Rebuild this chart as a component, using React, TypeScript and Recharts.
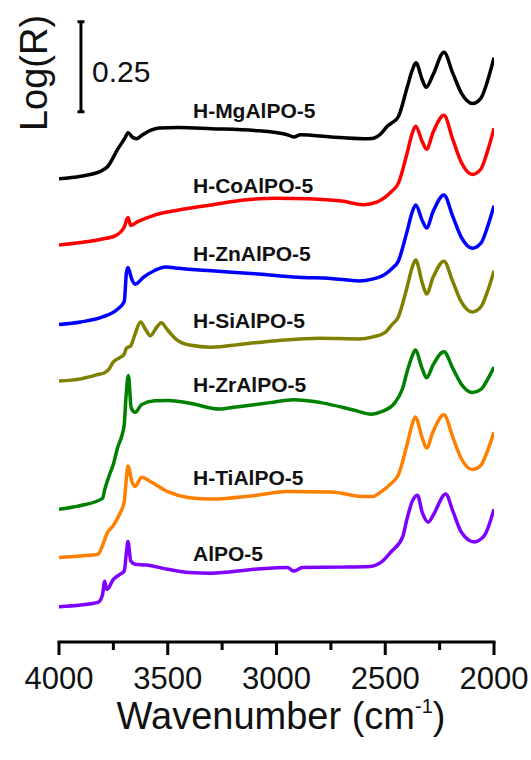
import React from 'react';
import { LineChart, Line, XAxis, YAxis, ReferenceLine, ReferenceDot, Customized } from 'recharts';

const FONT = '"Liberation Sans", Arial, Helvetica, sans-serif';

// x axis: wavenumber (cm^-1), reversed
const wavenumberTicks = [4000, 3750, 3500, 3250, 3000, 2750, 2500, 2250, 2000];
const majorTickLabels = ['4000', '3500', '3000', '2500', '2000'];

// Series names and colours (top to bottom)
const seriesNames = ['H-MgAlPO-5', 'H-CoAlPO-5', 'H-ZnAlPO-5', 'H-SiAlPO-5', 'H-ZrAlPO-5', 'H-TiAlPO-5', 'AlPO-5'];
const seriesColors = ['#000000', '#ff0000', '#0000ff', '#808000', '#008000', '#ff8000', '#8000ff'];
const labelLogR = [1.476, 1.267, 1.078, 0.892, 0.715, 0.458, 0.247];
const labelWavenumber = 3384;

// Scale bar (0.25 Log(R))
const scaleBarWavenumber = 3899;
const scaleBarBottom = 1.473;
const scaleBarSize = 0.25;

// Spectra: [wavenumber, offset Log(R)]
const mgSpectrum: [number, number][] = [
  [4000, 1.287], [3900, 1.294], [3807, 1.308], [3776, 1.321], [3730, 1.369], [3695, 1.402], [3683, 1.415],
  [3662, 1.402], [3644, 1.398], [3620, 1.407], [3580, 1.421], [3540, 1.428], [3450, 1.429], [3300, 1.426],
  [3100, 1.421], [2950, 1.409], [2920, 1.403], [2890, 1.409], [2750, 1.403], [2600, 1.398], [2560, 1.399],
  [2520, 1.412], [2490, 1.433], [2470, 1.442], [2440, 1.459], [2400, 1.539], [2375, 1.590], [2359, 1.609],
  [2330, 1.562], [2312, 1.541], [2280, 1.576], [2230, 1.638], [2190, 1.581], [2150, 1.525], [2098, 1.496],
  [2060, 1.511], [2030, 1.558], [2000, 1.623],
];
const coSpectrum: [number, number][] = [
  [4000, 1.103], [3900, 1.110], [3807, 1.119], [3740, 1.129], [3700, 1.153], [3683, 1.179], [3670, 1.157],
  [3640, 1.167], [3560, 1.186], [3450, 1.200], [3300, 1.214], [3150, 1.228], [3000, 1.233], [2850, 1.231],
  [2700, 1.225], [2600, 1.215], [2540, 1.222], [2500, 1.236], [2470, 1.252], [2440, 1.274], [2400, 1.357],
  [2375, 1.415], [2360, 1.433], [2330, 1.390], [2310, 1.369], [2280, 1.416], [2230, 1.463], [2190, 1.397],
  [2150, 1.332], [2100, 1.299], [2060, 1.314], [2030, 1.363], [2000, 1.427],
];
const znSpectrum: [number, number][] = [
  [4000, 0.882], [3900, 0.889], [3800, 0.903], [3730, 0.925], [3700, 0.946], [3690, 1.026], [3683, 1.040],
  [3665, 1.007], [3650, 0.994], [3610, 1.014], [3560, 1.032], [3510, 1.042], [3450, 1.038], [3300, 1.031],
  [3100, 1.023], [2900, 1.013], [2750, 1.010], [2620, 1.003], [2560, 1.008], [2500, 1.022], [2470, 1.037],
  [2440, 1.058], [2400, 1.140], [2375, 1.196], [2360, 1.214], [2330, 1.171], [2310, 1.150], [2280, 1.196],
  [2230, 1.242], [2190, 1.183], [2150, 1.124], [2100, 1.094], [2060, 1.108], [2030, 1.153], [2000, 1.212],
];
const siSpectrum: [number, number][] = [
  [4000, 0.725], [3900, 0.731], [3820, 0.743], [3790, 0.748], [3770, 0.758], [3750, 0.778], [3720, 0.790],
  [3700, 0.800], [3690, 0.816], [3670, 0.823], [3650, 0.856], [3625, 0.889], [3600, 0.866], [3580, 0.851],
  [3550, 0.875], [3530, 0.887], [3500, 0.866], [3460, 0.840], [3400, 0.825], [3300, 0.819], [3150, 0.828],
  [3000, 0.837], [2800, 0.844], [2620, 0.842], [2560, 0.847], [2500, 0.860], [2470, 0.881], [2440, 0.903],
  [2400, 0.985], [2375, 1.043], [2360, 1.061], [2330, 0.998], [2310, 0.967], [2280, 1.013], [2230, 1.058],
  [2190, 1.002], [2150, 0.945], [2100, 0.917], [2060, 0.931], [2030, 0.974], [2000, 1.031],
];
const zrSpectrum: [number, number][] = [
  [4000, 0.369], [3900, 0.379], [3800, 0.399], [3790, 0.423], [3770, 0.461], [3750, 0.494], [3730, 0.541],
  [3710, 0.575], [3700, 0.605], [3692, 0.680], [3681, 0.740], [3668, 0.650], [3650, 0.638], [3620, 0.660],
  [3560, 0.670], [3496, 0.671], [3403, 0.664], [3263, 0.647], [3186, 0.653], [3030, 0.665], [2922, 0.673],
  [2797, 0.665], [2642, 0.644], [2564, 0.633], [2517, 0.640], [2455, 0.665], [2420, 0.705], [2400, 0.750],
  [2375, 0.796], [2362, 0.811], [2330, 0.759], [2310, 0.734], [2280, 0.770], [2230, 0.806], [2190, 0.761],
  [2150, 0.716], [2100, 0.693], [2060, 0.702], [2030, 0.729], [2000, 0.764],
];
const tiSpectrum: [number, number][] = [
  [4000, 0.235], [3900, 0.239], [3820, 0.244], [3800, 0.268], [3780, 0.301], [3750, 0.324], [3720, 0.357],
  [3700, 0.390], [3690, 0.456], [3683, 0.489], [3665, 0.446], [3650, 0.432], [3620, 0.458], [3580, 0.446],
  [3500, 0.418], [3400, 0.401], [3300, 0.397], [3100, 0.407], [2950, 0.418], [2750, 0.417], [2600, 0.404],
  [2560, 0.404], [2520, 0.417], [2470, 0.442], [2440, 0.464], [2400, 0.548], [2375, 0.607], [2362, 0.625],
  [2330, 0.567], [2310, 0.539], [2280, 0.585], [2230, 0.631], [2190, 0.570], [2150, 0.509], [2100, 0.479],
  [2060, 0.491], [2030, 0.531], [2000, 0.583],
];
const alpoSpectrum: [number, number][] = [
  [4000, 0.098], [3900, 0.103], [3820, 0.110], [3800, 0.131], [3790, 0.169], [3780, 0.146], [3750, 0.174],
  [3720, 0.188], [3700, 0.197], [3690, 0.249], [3683, 0.279], [3670, 0.225], [3650, 0.216], [3600, 0.214],
  [3500, 0.202], [3400, 0.193], [3300, 0.191], [3100, 0.202], [2950, 0.207], [2920, 0.197], [2880, 0.207],
  [2700, 0.208], [2570, 0.210], [2520, 0.221], [2474, 0.250], [2420, 0.292], [2400, 0.342], [2375, 0.392],
  [2352, 0.408], [2330, 0.360], [2302, 0.333], [2280, 0.352], [2222, 0.411], [2190, 0.365], [2150, 0.305],
  [2090, 0.278], [2060, 0.286], [2040, 0.300], [2000, 0.369],
];

const spectra = [mgSpectrum, coSpectrum, znSpectrum, siSpectrum, zrSpectrum, tiSpectrum, alpoSpectrum];
const toRows = (pts: [number, number][]) => pts.map(([wn, logR]) => ({ wn, logR }));

const AxisTick = (props: any) => {
  const { x, y, payload } = props;
  const label = String(payload.value);
  const major = majorTickLabels.includes(label);
  return (
    <g>
      <line x1={x} x2={x} y1={y} y2={y + (major ? 13 : 8)} stroke="#000" strokeWidth={3} />
      {major && (
        <text x={x} y={y + 47} textAnchor="middle" fontSize={31} fontFamily={FONT} fill="#111">
          {label}
        </text>
      )}
    </g>
  );
};

const Titles = () => (
  <g>
    <text
      x={34}
      y={73}
      transform="rotate(-90, 34, 73)"
      textAnchor="middle"
      dominantBaseline="central"
      fontSize={38}
      fontFamily={FONT}
      fill="#111"
    >
      Log(R)
    </text>
    <text x={281} y={729} textAnchor="middle" fontSize={38} fontFamily={FONT} fill="#111">
      Wavenumber (cm<tspan dy={-16} fontSize={20}>-1</tspan>
      <tspan dy={16} fontSize={38}>)</tspan>
    </text>
  </g>
);

export default function App() {
  return (
    <div style={{ position: 'absolute', left: 0, top: 0, background: '#fff' }}>
      <LineChart width={531} height={760} margin={{ top: 16, right: 37, bottom: 0, left: 59 }}>
        <XAxis
          dataKey="wn"
          type="number"
          domain={[2000, 4000]}
          reversed
          ticks={wavenumberTicks}
          interval={0}
          height={118}
          tickSize={0}
          tickMargin={0}
          tickLine={false}
          tick={<AxisTick />}
          axisLine={{ stroke: '#000', strokeWidth: 3, strokeLinecap: 'square' }}
          allowDataOverflow
        />
        <YAxis
          type="number"
          domain={[0, 1.739]}
          width={0}
          tick={false}
          tickLine={false}
          axisLine={{ stroke: '#000', strokeWidth: 3, strokeLinecap: 'square' }}
          allowDataOverflow
        />
        {spectra.map((pts, i) => (
          <Line
            key={seriesNames[i]}
            data={toRows(pts)}
            dataKey="logR"
            type="monotone"
            stroke={seriesColors[i]}
            strokeWidth={3.5}
            dot={false}
            activeDot={false}
            isAnimationActive={false}
          />
        ))}
        <ReferenceLine
          segment={[{ x: scaleBarWavenumber, y: scaleBarBottom }, { x: scaleBarWavenumber, y: scaleBarBottom + scaleBarSize }]}
          stroke="#000"
          strokeWidth={3}
          ifOverflow="visible"
        />
        <ReferenceLine
          segment={[{ x: scaleBarWavenumber + 16, y: scaleBarBottom }, { x: scaleBarWavenumber - 16, y: scaleBarBottom }]}
          stroke="#000"
          strokeWidth={3}
          ifOverflow="visible"
        />
        <ReferenceLine
          segment={[{ x: scaleBarWavenumber + 16, y: scaleBarBottom + scaleBarSize }, { x: scaleBarWavenumber - 16, y: scaleBarBottom + scaleBarSize }]}
          stroke="#000"
          strokeWidth={3}
          ifOverflow="visible"
        />
        <ReferenceDot
          x={3848}
          y={scaleBarBottom + scaleBarSize / 2 - 0.014}
          r={0}
          ifOverflow="visible"
          shape={(p: any) => (
            <text x={p.cx} y={p.cy} dominantBaseline="central" fontSize={30} fontFamily={FONT} fill="#111">
              {scaleBarSize.toFixed(2)}
            </text>
          )}
        />
        {seriesNames.map((name, i) => (
          <ReferenceDot
            key={'lbl' + name}
            x={labelWavenumber}
            y={labelLogR[i]}
            r={0}
            ifOverflow="visible"
            shape={(p: any) => (
              <text
                x={p.cx}
                y={p.cy}
                dominantBaseline="central"
                fontSize={21}
                fontWeight="bold"
                fontFamily={FONT}
                fill="#111"
              >
                {name}
              </text>
            )}
          />
        ))}
        <Customized component={Titles} />
      </LineChart>
    </div>
  );
}
